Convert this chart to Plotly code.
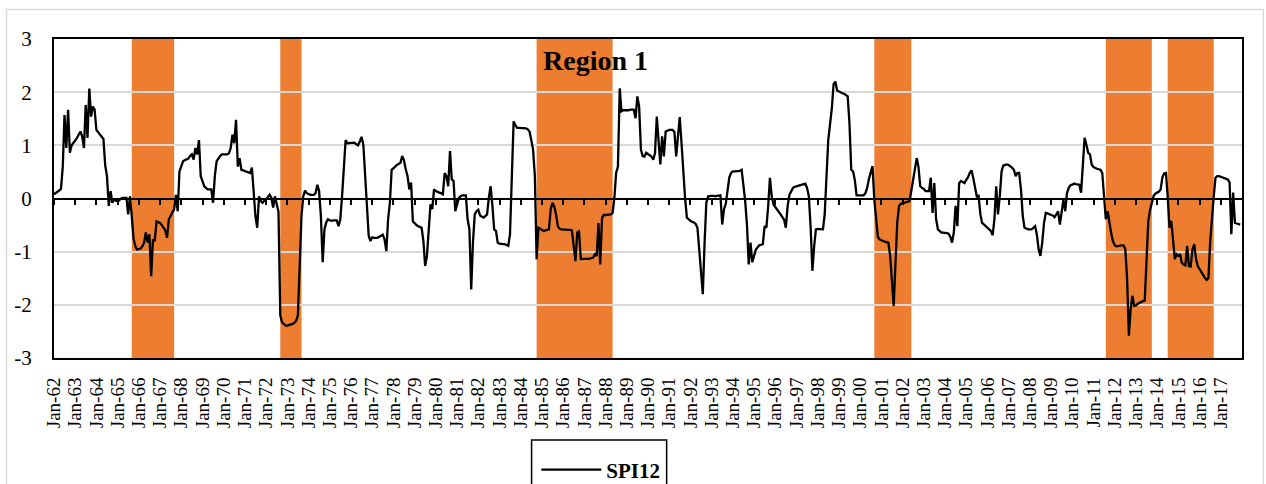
import pandas as pd
import plotly.graph_objects as go

# Monthly SPI-12 values, one list per calendar year (Jan..Dec)
spi_1962 = [0.08, 0.10, 0.12, 0.15, 0.18, 0.60, 1.57, 0.95, 1.67, 0.86, 1.00, 1.04]
spi_1963 = [1.08, 1.14, 1.20, 1.26, 1.17, 0.95, 1.76, 1.14, 2.07, 1.54, 1.73, 1.67]
spi_1964 = [1.29, 1.24, 1.20, 1.16, 1.12, 0.62, 0.42, -0.14, 0.14, -0.08, -0.02, -0.04]
spi_1965 = [-0.05, -0.03, 0.00, 0.01, 0.01, 0.01, -0.30, 0.04, -0.33, -0.75, -0.90, -0.96]
spi_1966 = [-0.95, -0.94, -0.90, -0.83, -0.64, -0.83, -0.67, -1.46, -0.77, -0.80, -0.43, -0.44]
spi_1967 = [-0.46, -0.50, -0.55, -0.60, -0.74, -0.39, -0.33, -0.25, -0.20, 0.07, -0.24, 0.51]
spi_1968 = [0.62, 0.70, 0.72, 0.73, 0.75, 0.80, 0.83, 0.73, 0.95, 0.83, 1.10, 0.42]
spi_1969 = [0.30, 0.23, 0.20, 0.17, 0.17, 0.17, -0.08, 0.42, 0.70, 0.76, 0.80, 0.83]
spi_1970 = [0.83, 0.83, 0.83, 0.85, 0.95, 1.20, 1.04, 1.48, 0.60, 0.76, 0.54, 0.53]
spi_1971 = [0.52, 0.51, 0.49, 0.48, 0.58, 0.04, -0.33, -0.55, 0.04, -0.05, -0.08, -0.04]
spi_1972 = [-0.02, 0.03, 0.07, 0.01, -0.17, 0.04, -0.10, -0.25, -2.20, -2.33, -2.36, -2.39]
spi_1973 = [-2.39, -2.38, -2.38, -2.36, -2.34, -2.30, -2.20, -1.30, -0.33, 0.04, 0.15, 0.10]
spi_1974 = [0.08, 0.07, 0.07, 0.07, 0.10, 0.26, 0.14, -0.33, -1.20, -0.58, -0.45, -0.39]
spi_1975 = [-0.41, -0.42, -0.41, -0.41, -0.41, -0.52, -0.39, 0.05, 0.67, 1.10, 1.04, 1.04]
spi_1976 = [1.04, 1.05, 1.05, 1.02, 1.00, 1.07, 1.16, 1.01, 0.50, -0.20, -0.70, -0.80]
spi_1977 = [-0.73, -0.74, -0.74, -0.74, -0.72, -0.70, -0.68, -0.77, -0.99, -0.39, -0.08, 0.54]
spi_1978 = [0.58, 0.60, 0.63, 0.65, 0.67, 0.80, 0.72, 0.55, 0.42, 0.17, 0.30, -0.43]
spi_1979 = [-0.47, -0.50, -0.52, -0.54, -0.55, -0.80, -1.27, -1.08, -0.65, -0.11, -0.20, 0.17]
spi_1980 = [0.14, 0.12, 0.11, 0.10, 0.08, 0.48, 0.42, 0.23, 0.89, 0.36, 0.33, -0.24]
spi_1981 = [-0.11, 0.01, 0.04, 0.06, 0.06, 0.06, -0.39, -0.58, -1.71, -0.83, -0.30, -0.24]
spi_1982 = [-0.21, -0.32, -0.34, -0.36, -0.33, -0.30, 0.01, 0.23, -0.14, -0.58, -0.61, -0.83]
spi_1983 = [-0.85, -0.86, -0.86, -0.86, -0.88, -0.89, -0.67, 0.27, 1.45, 1.38, 1.33, 1.33]
spi_1984 = [1.33, 1.33, 1.32, 1.32, 1.30, 1.26, 1.10, 0.92, 0.42, -1.14, -0.55, -0.57]
spi_1985 = [-0.58, -0.61, -0.60, -0.59, -0.58, -0.20, -0.08, -0.15, -0.30, -0.52, -0.57, -0.58]
spi_1986 = [-0.58, -0.58, -0.58, -0.58, -0.59, -0.60, -0.96, -1.18, -0.64, -0.62, -1.14, -1.14]
spi_1987 = [-1.13, -1.13, -1.13, -1.13, -1.12, -1.11, -1.05, -1.08, -0.46, -1.24, -0.37, -0.31]
spi_1988 = [-0.31, -0.31, -0.30, -0.30, -0.27, 0.01, 0.48, 0.60, 2.07, 1.64, 1.66, 1.66]
spi_1989 = [1.65, 1.66, 1.67, 1.67, 1.67, 1.51, 1.92, 1.73, 0.92, 0.80, 0.79, 0.86]
spi_1990 = [0.84, 0.82, 0.79, 0.73, 0.85, 1.54, 1.10, 0.64, 1.17, 0.79, 1.26, 1.28]
spi_1991 = [1.29, 1.29, 1.29, 1.25, 0.79, 1.17, 1.53, 1.04, 0.39, 0.01, -0.36, -0.40]
spi_1992 = [-0.42, -0.44, -0.45, -0.48, -0.55, -0.96, -1.39, -1.80, -0.83, -0.08, 0.04, 0.05]
spi_1993 = [0.05, 0.05, 0.04, 0.05, 0.06, 0.06, -0.49, -0.20, -0.10, 0.20, 0.40, 0.48]
spi_1994 = [0.51, 0.51, 0.51, 0.51, 0.52, 0.54, 0.28, -0.05, -0.50, -1.24, -0.83, -1.20]
spi_1995 = [-1.08, -0.96, -0.92, -0.88, -0.87, -0.86, -0.52, -0.55, -0.14, 0.39, 0.04, -0.11]
spi_1996 = [-0.16, -0.20, -0.25, -0.30, -0.34, -0.40, -0.55, -0.14, 0.07, 0.15, 0.20, 0.22]
spi_1997 = [0.23, 0.23, 0.24, 0.25, 0.26, 0.28, 0.20, 0.04, -0.55, -1.36, -0.89, -0.58]
spi_1998 = [-0.57, -0.57, -0.58, -0.58, -0.30, 0.30, 1.10, 1.40, 1.70, 2.15, 2.20, 2.03]
spi_1999 = [2.01, 1.99, 1.98, 1.97, 1.95, 1.92, 1.42, 0.54, 0.51, 0.35, 0.06, 0.06]
spi_2000 = [0.06, 0.06, 0.06, 0.10, 0.20, 0.37, 0.48, 0.61, -0.02, -0.40, -0.72, -0.77]
spi_2001 = [-0.79, -0.80, -0.81, -0.82, -0.83, -1.08, -1.55, -2.02, -1.20, -0.45, -0.14, -0.10]
spi_2002 = [-0.09, -0.08, -0.06, -0.05, -0.05, 0.15, 0.33, 0.50, 0.76, 0.60, 0.23, 0.20]
spi_2003 = [0.18, 0.14, 0.14, 0.14, 0.39, -0.27, 0.29, -0.39, -0.58, -0.62, -0.64, -0.64]
spi_2004 = [-0.64, -0.65, -0.66, -0.72, -0.83, -0.64, -0.14, -0.52, 0.29, 0.33, 0.31, 0.29]
spi_2005 = [0.35, 0.40, 0.48, 0.53, 0.39, 0.20, 0.04, 0.05, -0.30, -0.46, -0.49, -0.52]
spi_2006 = [-0.55, -0.58, -0.61, -0.69, -0.39, 0.23, -0.30, 0.04, 0.51, 0.62, 0.63, 0.64]
spi_2007 = [0.63, 0.61, 0.58, 0.54, 0.42, 0.48, 0.48, 0.17, -0.33, -0.55, -0.57, -0.58]
spi_2008 = [-0.58, -0.58, -0.55, -0.52, -0.68, -0.96, -1.08, -0.83, -0.46, -0.27, -0.28, -0.30]
spi_2009 = [-0.31, -0.32, -0.35, -0.30, -0.24, -0.49, -0.28, -0.02, -0.24, 0.10, 0.20, 0.25]
spi_2010 = [0.26, 0.28, 0.27, 0.27, 0.26, 0.11, 0.60, 1.14, 1.01, 0.86, 0.83, 0.64]
spi_2011 = [0.59, 0.57, 0.56, 0.55, 0.54, 0.48, 0.04, -0.39, -0.24, -0.46, -0.65, -0.80]
spi_2012 = [-0.88, -0.90, -0.89, -0.89, -0.88, -0.88, -0.95, -1.50, -2.58, -2.08, -1.83, -2.02]
spi_2013 = [-2.01, -1.98, -1.96, -1.94, -1.93, -1.92, -1.21, -0.43, -0.21, -0.05, 0.05, 0.09]
spi_2014 = [0.11, 0.13, 0.17, 0.40, 0.47, 0.48, 0.04, -0.55, -0.42, -0.83, -1.14, -1.05]
spi_2015 = [-1.08, -1.05, -1.21, -1.24, -1.26, -0.89, -1.27, -1.28, -0.96, -0.86, -1.14, -1.27]
spi_2016 = [-1.33, -1.39, -1.45, -1.49, -1.53, -1.50, -0.83, -0.33, 0.04, 0.39, 0.42, 0.42]
spi_2017 = [0.41, 0.40, 0.39, 0.38, 0.36, 0.30, -0.67, 0.11, -0.46, -0.47, -0.48, -0.49]

# Drought periods (first and last month, inclusive)
drought_start = ["1965-09", "1972-09", "1984-10", "2000-09", "2011-08", "2014-07"]
drought_end = ["1967-08", "1973-08", "1988-04", "2002-05", "2013-09", "2016-08"]

# Axis tick values and their labels
y_ticks = [-3, -2, -1, 0, 1, 2, 3]
y_tick_labels = ["-3", "-2", "-1", "0", "1", "2", "3"]
first_year, last_year = 1962, 2017

series_name = "SPI12"
region_label = "Region 1"

spi12 = []
for yr in range(first_year, last_year + 1):
    spi12.extend(globals()[f"spi_{yr}"])
months = pd.date_range(f"{first_year}-01-01", periods=len(spi12), freq="MS")
jan_ticks = pd.date_range(f"{first_year}-01-01", f"{last_year}-01-01", freq="YS")

SERIF = "Times New Roman, Liberation Serif, serif"
ORANGE = "#ED7D31"

fig = go.Figure()
fig.add_trace(go.Scatter(
    x=months, y=spi12, mode="lines", name=series_name,
    line=dict(color="black", width=2.3),
))
# Empty companion trace so the zero-crossing axis (x2) is rendered
fig.add_trace(go.Scatter(x=months[:1], y=[None], xaxis="x2", yaxis="y",
                         mode="lines", showlegend=False, hoverinfo="skip"))

# Drought bands behind the series, above the gridlines
for s, e in zip(drought_start, drought_end):
    x0 = pd.Timestamp(s + "-01")
    x1 = pd.Timestamp(e + "-01") + pd.offsets.MonthBegin(1)
    fig.add_shape(type="rect", xref="x", yref="paper", x0=x0, x1=x1, y0=0, y1=1,
                  fillcolor=ORANGE, line=dict(width=0), layer="between")

# Legend frame and outer chart frame
fig.add_shape(type="rect", xref="paper", yref="paper",
              x0=0.402, x1=0.5157, y0=-0.257, y1=-0.45,
              line=dict(color="black", width=1.5), fillcolor="rgba(0,0,0,0)")
fig.add_shape(type="rect", xref="paper", yref="paper",
              x0=-0.040, x1=1.018, y0=1.0925, y1=-0.45,
              line=dict(color="#d9d9d9", width=1.5), fillcolor="rgba(0,0,0,0)")

fig.add_annotation(text="<b>" + region_label + "</b>", xref="paper", yref="paper",
                   x=0.456, y=0.934, xanchor="center", yanchor="middle", showarrow=False,
                   font=dict(family=SERIF, size=28, color="black"))

x_range = [f"{first_year}-01-01", f"{last_year}-12-31 12:00"]
fig.update_layout(
    width=1266, height=484,
    margin=dict(l=54, r=24, t=39, b=126, autoexpand=False),
    paper_bgcolor="white", plot_bgcolor="white",
    showlegend=True,
    legend=dict(orientation="h", x=0.406, xanchor="left", y=-0.351, yanchor="middle",
                font=dict(family=SERIF, size=21, color="black", weight="bold"),
                bgcolor="rgba(0,0,0,0)", itemwidth=60),
    xaxis=dict(type="date", range=x_range, tickmode="array", tickvals=jan_ticks,
               tickformat="%b-%y", tickangle=-90, ticks="", showgrid=False,
               showline=True, linecolor="black", linewidth=2, mirror=True,
               zeroline=False, ticklabelstandoff=10, automargin=False,
               tickfont=dict(family=SERIF, size=19, color="black")),
    xaxis2=dict(type="date", range=x_range, overlaying="x", anchor="free", position=0.5,
                tickmode="array", tickvals=jan_ticks, showticklabels=False,
                ticks="outside", ticklen=5, tickwidth=1.5, tickcolor="black",
                showline=True, linecolor="black", linewidth=2, showgrid=False,
                zeroline=False),
    yaxis=dict(range=[-3, 3], tickvals=y_ticks, ticktext=y_tick_labels,
               showgrid=True, gridcolor="#d9d9d9", gridwidth=1.5,
               showline=True, linecolor="black", linewidth=2, mirror=True,
               zeroline=False, ticks="", ticklabelstandoff=16, automargin=False,
               tickfont=dict(family=SERIF, size=21, color="black")),
)

fig.write_html("out.html")
